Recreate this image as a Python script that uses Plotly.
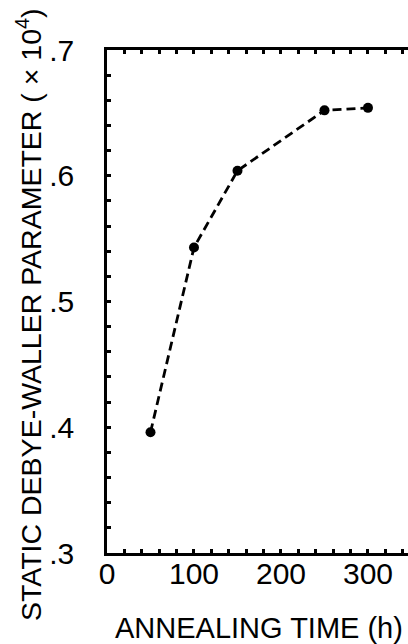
import plotly.graph_objects as go

# Data
annealing_time_h = [50, 100, 150, 250, 300]
debye_waller = [0.396, 0.543, 0.604, 0.652, 0.654]

# Tick labels as printed in the reference
y_tick_values = ["0.3", "0.4", "0.5", "0.6", "0.7"]
y_tick_labels = [".3", ".4", ".5", ".6", ".7"]

x_title = "ANNEALING TIME (h)"
y_title = "STATIC DEBYE-WALLER PARAMETER ( × 10<sup>4</sup>)"

FONT = "Liberation Sans, Arial, Helvetica, sans-serif"

fig = go.Figure()
fig.add_trace(go.Scatter(
    x=annealing_time_h, y=debye_waller,
    mode="lines+markers",
    line=dict(color="black", width=2.8, dash="9px,5px"),
    marker=dict(color="black", size=10, symbol="circle"),
    showlegend=False, hoverinfo="skip",
))

tick_style = dict(ticks="inside", ticklen=4, tickwidth=2.5, tickcolor="black")

fig.update_layout(
    width=408, height=644, autosize=False,
    margin=dict(l=107, r=0, t=50, b=91, pad=0),
    paper_bgcolor="white", plot_bgcolor="white",
    font=dict(family=FONT, size=28, color="black"),
    xaxis=dict(
        range=[0, 346], tickmode="linear", tick0=0, dtick=100,
        minor=dict(tick0=0, dtick=20, **tick_style),
        showline=True, linewidth=2.5, linecolor="black", mirror="ticks",
        showgrid=False, zeroline=False,
        tickfont=dict(family=FONT, size=30, color="black"),
        ticklabelstandoff=-8,
        **tick_style,
    ),
    yaxis=dict(
        range=[0.3, 0.7], tickmode="linear", tick0=0.3, dtick=0.1,
        labelalias=dict(zip(y_tick_values, y_tick_labels)),
        minor=dict(tick0=0.3, dtick=0.02, **tick_style),
        showline=True, linewidth=2.5, linecolor="black", mirror=False,
        showgrid=False, zeroline=False,
        tickfont=dict(family=FONT, size=30, color="black"),
        ticklabelstandoff=24,
        **tick_style,
    ),
    annotations=[
        dict(text=x_title, xref="paper", yref="paper",
             x=(259 - 107) / 301, y=(553 - 628) / 503,
             xanchor="center", yanchor="middle", showarrow=False,
             font=dict(family=FONT, size=29, color="black")),
        dict(text=y_title, xref="paper", yref="paper",
             x=(29 - 107) / 301, y=(553 - 315) / 503,
             xanchor="center", yanchor="middle", textangle=-90, showarrow=False,
             font=dict(family=FONT, size=28.5, color="black")),
    ],
)

fig.write_html("out.html", config={"displayModeBar": False},
               post_script="document.body.style.margin='0';document.body.style.padding='0';")
